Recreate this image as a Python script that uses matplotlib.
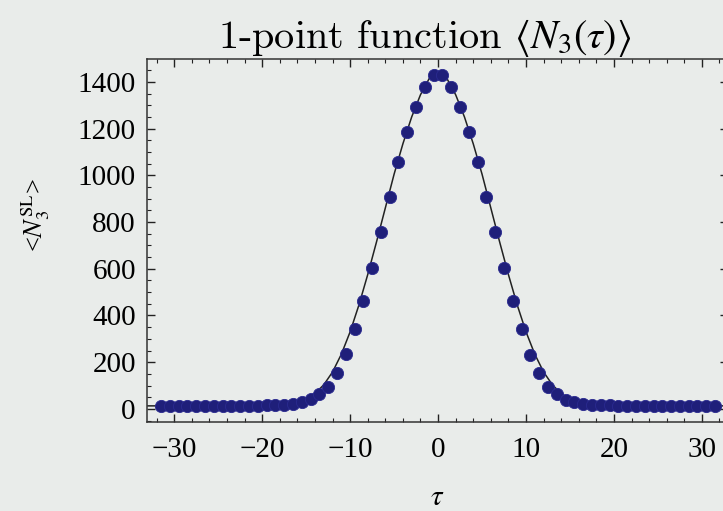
import matplotlib.pyplot as plt
import numpy as np
from matplotlib.ticker import MultipleLocator

# Data
# measured points sit at half-integer tau
tau_pts = [-31.5, -30.5, -29.5, -28.5, -27.5, -26.5, -25.5, -24.5, -23.5, -22.5,
           -21.5, -20.5, -19.5, -18.5, -17.5, -16.5, -15.5, -14.5, -13.5, -12.5,
           -11.5, -10.5, -9.5, -8.5, -7.5, -6.5, -5.5, -4.5, -3.5, -2.5, -1.5, -0.5,
           0.5, 1.5, 2.5, 3.5, 4.5, 5.5, 6.5, 7.5, 8.5, 9.5, 10.5, 11.5, 12.5,
           13.5, 14.5, 15.5, 16.5, 17.5, 18.5, 19.5, 20.5, 21.5, 22.5, 23.5,
           24.5, 25.5, 26.5, 27.5, 28.5, 29.5, 30.5, 31.5]
n3_pts = [14, 14, 14, 14, 14, 14, 14, 14, 14, 14,
          14, 14, 15, 15, 17, 21, 28, 44, 64, 95,
          154, 236, 341, 464, 604, 759, 909, 1059, 1187, 1294, 1378, 1430,
          1430, 1378, 1294, 1187, 1059, 909, 759, 604, 464, 341, 232, 155, 95,
          64, 40, 28, 21, 17, 15, 15, 14, 14, 14, 14,
          14, 14, 14, 14, 14, 14, 14, 14]

# theory curve, read at integer tau
tau_curve = [-33, -32, -31, -30, -29, -28, -27, -26, -25, -24, -23, -22, -21, -20,
             -19, -18, -17, -16, -15, -14, -13, -12, -11, -10, -9, -8, -7, -6, -5,
             -4, -3, -2, -1, 0, 1, 2, 3, 4, 5, 6, 7, 8, 9, 10, 11, 12, 13, 14, 15,
             16, 17, 18, 19, 20, 21, 22, 23, 24, 25, 26, 27, 28, 29, 30, 31, 32, 33]
n3_curve = [13, 13, 13, 13, 13, 13, 13, 13, 13, 13, 13, 13, 13, 13,
            14, 16, 20, 28, 42, 66, 103, 158, 234, 330, 445, 575, 715, 860, 1005,
            1135, 1250, 1345, 1415, 1440, 1415, 1345, 1250, 1135, 1005, 860, 715,
            575, 445, 330, 234, 158, 103, 66, 42, 28, 20, 16, 14, 13, 13, 13, 13,
            13, 13, 13, 13, 13, 13, 13, 13, 13, 13]

bg = '#e9ecea'
plt.rcParams['mathtext.fontset'] = 'stix'

fig = plt.figure(figsize=(7.23, 5.11), dpi=100, facecolor=bg)
ax = fig.add_axes([0.2033, 0.1742, 0.804, 0.7103], facecolor=bg)

ax.plot(tau_curve, n3_curve, color='#222222', lw=1.1, zorder=2)
ax.plot(tau_pts, n3_pts, 'o', color='#1f1f7a', markersize=8.8, mec='#2a2a90',
        mew=0.6, zorder=3)

ax.set_xlim(-33.1, 33)
ax.set_ylim(-56, 1498)

ax.xaxis.set_major_locator(MultipleLocator(10))
ax.xaxis.set_minor_locator(MultipleLocator(2))
ax.yaxis.set_major_locator(MultipleLocator(200))
ax.yaxis.set_minor_locator(MultipleLocator(50))
ax.tick_params(which='both', direction='in', top=True, right=True, color='#222222')
ax.tick_params(which='major', length=5.5, width=1.0, labelsize=21)
ax.tick_params(axis='x', which='major', pad=11)
ax.tick_params(axis='y', which='major', pad=8)
ax.tick_params(which='minor', length=3, width=0.8)
for lab in ax.get_xticklabels() + ax.get_yticklabels():
    lab.set_fontfamily('Liberation Serif')
for s in ax.spines.values():
    s.set_color('#333333')
    s.set_linewidth(1.1)

ax.set_title(r'1-point function $\langle N_3(\tau)\rangle$', fontsize=29,
             fontfamily='cmr10', pad=8, x=0.478)
ax.set_xlabel(r'$\tau$', fontsize=21, labelpad=14)
ax.set_ylabel(r'<$N_3^{\rm SL}$>', fontsize=19, fontfamily='Liberation Serif')
ax.yaxis.set_label_coords(-0.163, 0.57)

fig.savefig('out.png', dpi=100, facecolor=bg)
